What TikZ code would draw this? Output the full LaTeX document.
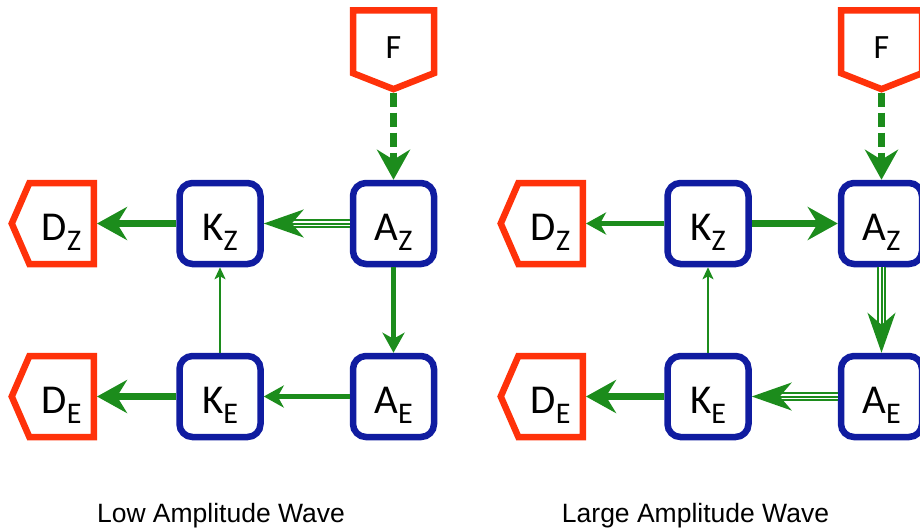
\documentclass[tikz,border=0pt]{standalone}
\usepackage{fontspec}
\setmainfont{Carlito}
\newfontfamily\capfont{Liberation Sans}
\usetikzlibrary{arrows.meta,shapes.symbols}
\definecolor{bbl}{RGB}{16,28,160}
\definecolor{rrd}{RGB}{255,50,10}
\definecolor{grn}{RGB}{28,140,28}
\newcommand\lbl[2]{#1\raisebox{-10pt}{\fontsize{30}{30}\selectfont #2}}
\tikzset{
 kbox/.style={draw=bbl, line width=6.5pt, rounded corners=13pt, minimum width=81pt, minimum height=81pt, inner sep=0pt, text height=33pt, text depth=0pt, font=\fontsize{41}{41}\selectfont},
 dbox/.style={shape=signal, signal to=west, signal from=nowhere, signal pointer angle=133, draw=rrd, line width=6.5pt, minimum height=81pt, minimum width=82pt, inner sep=0pt, text height=33pt, text depth=0pt, font=\fontsize{41}{41}\selectfont},
 fbox/.style={shape=signal, signal to=south, signal from=nowhere, signal pointer angle=137, draw=rrd, line width=6.5pt, minimum width=81pt, minimum height=66pt, inner sep=0pt, text height=34pt, text depth=0pt, font=\fontsize{34}{34}\selectfont},
 capt/.style={font=\capfont\fontsize{26.5}{26.5}\selectfont, anchor=base, inner sep=0pt},
 athick/.style={grn, line width=7pt, -{Stealth[length=30pt,width=33pt,inset=10pt]}},
 amed/.style={grn, line width=4.5pt, -{Stealth[length=20pt,width=22pt,inset=6pt]}},
 athin/.style={grn, line width=2.8pt, -{Stealth[length=12pt,width=11pt,inset=3pt]}},
 adash/.style={grn, line width=7pt, dash pattern=on 14pt off 6pt, -{Stealth[length=30pt,width=33pt,inset=10pt]}},
 atriple/.style={grn, line width=2pt, -{Stealth[length=40pt,width=28pt,inset=12pt]},
   preaction={draw=grn, line width=9pt, shorten >=30pt, -},
   preaction={draw=white, line width=5pt, shorten >=30pt, -}},
}
\begin{document}
\begin{tikzpicture}[x=1pt,y=-1pt]
\useasboundingbox (0,0) rectangle (920,528);
\clip (0,0) rectangle (920,528);
% left panel
\node[kbox] (kz1) at (220,223.5) {\lbl{K}{Z}};
\node[kbox] (az1) at (393.5,223.5) {\lbl{A}{Z}};
\node[kbox] (ke1) at (220,396.5) {\lbl{K}{E}};
\node[kbox] (ae1) at (393.5,396.5) {\lbl{A}{E}};
\node[dbox, anchor=east] (dz1) at (97,223.5) {\lbl{D}{Z}};
\node[dbox, anchor=east] (de1) at (97,396.5) {\lbl{D}{E}};
\node[fbox, anchor=north] (f1) at (393.5,7) {F};
\node[capt] (c1) at (221,522) {Low Amplitude Wave};
\draw[adash] (f1.south) -- (az1.north);
\draw[atriple] (az1.west) -- (kz1.east);
\draw[athick] (kz1.west) -- (dz1.east);
\draw[amed] (az1.south) -- (ae1.north);
\draw[athin] (ke1.north) -- (kz1.south);
\draw[amed] (ae1.west) -- (ke1.east);
\draw[athick] (ke1.west) -- (de1.east);
% right panel
\node[kbox] (kz2) at (708,223.5) {\lbl{K}{Z}};
\node[kbox] (az2) at (881.5,223.5) {\lbl{A}{Z}};
\node[kbox] (ke2) at (708,396.5) {\lbl{K}{E}};
\node[kbox] (ae2) at (881.5,396.5) {\lbl{A}{E}};
\node[dbox, anchor=east] (dz2) at (586,223.5) {\lbl{D}{Z}};
\node[dbox, anchor=east] (de2) at (586,396.5) {\lbl{D}{E}};
\node[fbox, anchor=north] (f2) at (881.5,7) {F};
\node[capt] (c2) at (695.5,522) {Large Amplitude Wave};
\draw[adash] (f2.south) -- (az2.north);
\draw[amed] (kz2.west) -- (dz2.east);
\draw[athick] (kz2.east) -- (az2.west);
\draw[atriple] (az2.south) -- (ae2.north);
\draw[athin] (ke2.north) -- (kz2.south);
\draw[atriple] (ae2.west) -- (ke2.east);
\draw[athick] (ke2.west) -- (de2.east);
\end{tikzpicture}
\end{document}
